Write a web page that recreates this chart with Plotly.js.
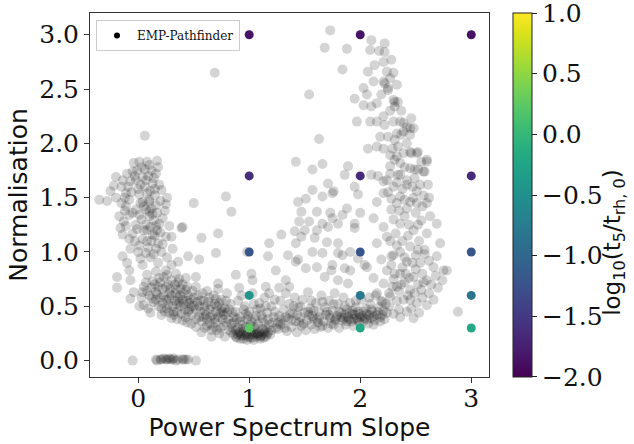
<!DOCTYPE html>
<html>
<head>
<meta charset="utf-8">
<script src="https://cdn.plot.ly/plotly-3.0.1.min.js"></script>
<style>html,body{margin:0;padding:0;background:#fff;}#chart{width:634px;height:444px;}</style>
</head>
<body>
<div id="chart"></div>
<script>
// ---- EMP-Pathfinder grey cloud (Power Spectrum Slope, Normalisation) ----
const leftCluster = [
[-0.04,1.82],[0.01,1.83],[0.08,1.83],[0.17,1.84],[0.16,1.72],[0.10,1.80],[-0.01,1.75],[-0.05,1.74],[0.04,1.69],[-0.02,1.66],
[-0.20,1.69],[-0.14,1.66],[-0.22,1.61],[-0.07,1.65],[0.07,1.66],[0.21,1.57],[0.13,1.63],[-0.11,1.54],[0.01,1.53],[0.11,1.56],
[-0.20,1.50],[-0.28,1.47],[-0.08,1.48],[0.04,1.46],[0.10,1.48],[0.16,1.43],[0.25,1.44],[-0.11,1.42],[-0.02,1.39],[0.07,1.39],
[0.17,1.36],[-0.17,1.33],[-0.08,1.34],[0.01,1.34],[0.10,1.33],[-0.11,1.24],[-0.02,1.25],[0.07,1.25],[0.16,1.24],[0.40,1.23],
[0.28,1.24],[0.11,1.23],[0.19,1.26],[-0.14,1.16],[-0.05,1.17],[0.13,1.16],[0.25,1.14],[0.01,1.06],[0.16,1.03],[-0.07,1.03],
[0.31,1.03],[-0.14,0.96],[0.07,0.99],[0.21,1.00],[0.36,0.91],[0.45,0.96],
[0.03,1.78],[0.12,1.75],[0.06,1.60],[0.00,1.58],[0.15,1.52],[0.05,1.42],[0.12,1.40],[0.03,1.30],[0.14,1.29],[0.08,1.20],
[0.12,1.10],[0.04,1.12],[0.18,1.08],[0.09,1.04],[-0.03,1.10],[0.20,1.18],[-0.06,1.55],[0.09,1.70],[-0.10,1.72],[0.22,1.31],
[-0.13,1.28],[-0.35,1.48],[-0.25,1.56],[0.26,1.50],
[-0.15,1.60],[-0.03,1.70],[0.06,1.76],[0.14,1.68],[0.19,1.62],[-0.09,1.60],[0.08,1.54],[-0.15,1.45],[0.02,1.45],[0.20,1.47],
[-0.05,1.36],[0.13,1.35],[0.24,1.38],[-0.16,1.22],[0.05,1.20],[0.15,1.15],[0.30,1.14],[-0.08,1.12],[0.00,1.00],[0.11,0.95],
[0.26,0.95],[0.18,0.90],[-0.10,0.90],[0.04,0.88],[0.30,0.88],[0.10,1.46],[0.18,1.78],[-0.12,1.50],
[0.08,1.10],[0.14,0.98],[0.22,1.07],[0.02,0.94],[0.17,1.20],[-0.01,1.21],[0.10,1.37],[0.02,1.62],[0.15,1.58],[-0.12,1.38]
];
const lowerBand = [
[-0.08,0.83],[-0.19,0.77],[-0.07,0.74],[-0.19,0.67],[-0.04,0.63],[-0.07,0.57],[0.01,0.50],
[0.08,0.79],[0.16,0.82],[0.25,0.83],[0.34,0.80],[0.43,0.76],[0.52,0.77],[0.04,0.63],[0.16,0.63],[0.25,0.68],[0.34,0.62],
[0.43,0.65],[0.52,0.68],[0.05,0.51],[0.16,0.56],[0.26,0.48],[0.37,0.54],[0.46,0.53],[0.52,0.47],[0.11,0.44],[0.21,0.42],
[0.30,0.39],[0.40,0.37],[0.48,0.34],[0.52,0.31],[0.05,0.68],[0.13,0.73],
[0.10,0.60],[0.20,0.58],[0.28,0.57],[0.33,0.70],[0.38,0.66],[0.45,0.60],[0.48,0.42],[0.42,0.47],[0.35,0.45],[0.27,0.52],
[0.18,0.50],[0.22,0.66],[0.30,0.74],[0.40,0.70],[0.12,0.67],[0.19,0.76],[0.28,0.62],[0.36,0.58],[0.44,0.55],[0.50,0.58],
[0.55,0.50],[0.55,0.40],[0.58,0.62],[0.24,0.45],[0.31,0.50],[0.39,0.43],[0.46,0.47],[0.53,0.54],[0.14,0.54],[0.23,0.60],
[0.41,0.62],[0.34,0.66],[0.49,0.64],[0.07,0.72],[0.26,0.79],[0.37,0.75],
[0.03,0.58],[0.09,0.48],[0.15,0.70],[0.21,0.48],[0.28,0.44],[0.33,0.55],[0.38,0.50],[0.43,0.40],[0.50,0.50],[0.56,0.45],
[0.61,0.42],[0.64,0.58],[0.69,0.38],[0.73,0.53],[0.77,0.42],[0.82,0.47],[0.86,0.40],[0.20,0.72],[0.29,0.66],[0.38,0.60],
[0.47,0.56],[0.56,0.55],[0.66,0.50],[0.76,0.45],[0.85,0.30],[0.62,0.32],[0.52,0.38],[0.44,0.35],[0.35,0.38],[0.25,0.56],
[0.17,0.61],[0.32,0.45],[0.41,0.52],[0.59,0.40],[0.71,0.28],[0.79,0.35],
[0.12,0.57],[0.22,0.53],[0.30,0.60],[0.35,0.52],[0.40,0.56],[0.45,0.45],[0.27,0.70],[0.18,0.68],[0.08,0.64],[0.32,0.42],
[0.48,0.50],[0.54,0.60],[0.60,0.50],[0.65,0.40],[0.70,0.57],[0.44,0.68],[0.36,0.72],[0.23,0.77],
[0.60,0.30],[0.62,0.38],[0.60,0.46],[0.63,0.54],[0.66,0.28],[0.67,0.42],[0.68,0.60],[0.70,0.35],[0.71,0.50],[0.73,0.25],
[0.74,0.44],[0.75,0.56],[0.77,0.32],[0.78,0.22],[0.78,0.48],[0.80,0.62],[0.81,0.38],[0.82,0.28],[0.83,0.52],[0.85,0.44],
[0.57,0.36],[0.59,0.55],[0.64,0.47],[0.65,0.34],[0.69,0.52],[0.72,0.40],[0.76,0.38],[0.79,0.55],[0.84,0.34],[0.62,0.64],
[0.72,0.66],[0.57,0.26],[0.66,0.22],[0.70,0.45],[0.75,0.48],[0.80,0.44],[0.68,0.31],[0.74,0.30],
[0.86,0.24],[0.89,0.21],[0.91,0.26],[0.93,0.23],[0.95,0.20],[0.97,0.25],[0.99,0.22],[1.01,0.27],[1.03,0.21],[1.05,0.24],
[1.07,0.22],[1.09,0.26],[1.11,0.23],[1.13,0.25],[1.15,0.22],[1.17,0.26],[0.88,0.28],[0.94,0.29],[1.00,0.30],[1.06,0.29],
[1.12,0.29],[0.92,0.20],[0.98,0.19],[1.04,0.19],[1.10,0.20],[0.96,0.23],[1.02,0.24],[1.08,0.24],[0.90,0.24],[1.14,0.27],
[1.19,0.24],[0.84,0.26],
[0.88,0.22],[0.92,0.25],[0.95,0.27],[0.98,0.24],[1.01,0.21],[1.04,0.26],[1.07,0.25],[1.10,0.22],[1.13,0.21],[1.16,0.24],
[0.90,0.30],[1.05,0.31],[1.15,0.30],[0.97,0.31],[1.20,0.28],
[0.86,0.35],[0.88,0.45],[0.90,0.55],[0.92,0.40],[0.94,0.33],[0.96,0.50],[0.98,0.38],[1.00,0.45],[1.02,0.36],[1.04,0.52],
[1.06,0.41],[1.08,0.34],[1.10,0.48],[1.12,0.39],[1.14,0.58],[1.16,0.44],[1.18,0.33],[1.20,0.50],[1.22,0.40],[1.24,0.30],
[0.93,0.60],[1.03,0.62],[1.18,0.62],[0.97,0.43],[1.07,0.47],[1.13,0.35],[1.23,0.56],[0.89,0.38],[1.01,0.33],[1.21,0.35],
[0.92,0.36],[0.99,0.41],[1.05,0.38],[1.11,0.42],[1.17,0.38],[1.23,0.45],[1.26,0.35],[0.95,0.47],[1.09,0.53],[1.15,0.50]
];
const midBand = [
[1.26,0.29],[1.27,0.41],[1.28,0.55],[1.30,0.34],[1.31,0.47],[1.33,0.62],[1.34,0.27],[1.35,0.39],[1.36,0.52],[1.38,0.31],
[1.39,0.44],[1.41,0.58],[1.42,0.36],[1.43,0.26],[1.44,0.49],[1.46,0.40],[1.47,0.32],[1.48,0.56],[1.50,0.44],[1.51,0.28],
[1.52,0.37],[1.53,0.63],[1.55,0.48],[1.56,0.33],[1.57,0.41],[1.59,0.29],[1.60,0.53],[1.61,0.38],[1.63,0.45],[1.64,0.31],
[1.65,0.60],[1.67,0.36],[1.68,0.49],[1.69,0.42],[1.71,0.30],[1.72,0.55],[1.73,0.39],[1.75,0.46],[1.76,0.33],[1.77,0.62],
[1.79,0.41],[1.80,0.52],[1.81,0.30],[1.83,0.44],[1.84,0.37],[1.85,0.58],[1.87,0.33],[1.88,0.47],[1.89,0.40],[1.91,0.53],
[1.92,0.36],[1.93,0.43],[1.94,0.32],[1.96,0.49],[1.97,0.39],[1.98,0.45],[1.99,0.35],[2.01,0.56],[2.02,0.41],[2.03,0.36],
[2.05,0.48],[2.06,0.43],[2.07,0.34],[2.09,0.52],[2.10,0.39],[2.11,0.45],[2.13,0.37],[2.14,0.60],[2.15,0.42],[2.17,0.49],
[2.18,0.40],[2.19,0.55],[2.21,0.46],[2.22,0.38],[2.23,0.52],
[1.78,0.38],[1.82,0.40],[1.86,0.42],[1.90,0.38],[1.95,0.42],[2.00,0.40],[2.04,0.39],[2.08,0.42],[1.93,0.46],[1.88,0.36],
[2.12,0.41],[1.98,0.37],[1.29,0.38],[1.37,0.43],[1.45,0.35],[1.54,0.42],[1.62,0.35],[1.70,0.45],[1.74,0.34],[1.58,0.46],
[1.40,0.50],[1.32,0.30],
[1.28,0.33],[1.33,0.40],[1.38,0.37],[1.43,0.42],[1.49,0.34],[1.53,0.45],[1.58,0.38],[1.63,0.40],[1.66,0.32],[1.72,0.42],
[1.77,0.37],[1.81,0.45],[1.85,0.39],[1.90,0.44],[1.94,0.38],[1.99,0.43],[2.03,0.45],[2.06,0.38],[2.10,0.47],[2.16,0.45],
[2.20,0.42],[1.46,0.50],[1.56,0.55],[1.66,0.54],[1.76,0.52],[1.86,0.50],[1.96,0.55],[2.08,0.58],[2.12,0.33]
];
const rightArm = [
[2.15,1.08],[2.24,1.14],[2.33,1.06],[2.45,1.05],[2.58,1.02],[2.69,0.96],[2.78,0.83],[2.30,0.97],[2.19,0.93],[2.42,0.91],
[2.54,0.90],[2.66,0.86],[2.24,0.83],[2.36,0.80],[2.48,0.77],[2.60,0.74],[2.70,0.67],[2.12,0.76],[2.21,0.71],[2.33,0.68],
[2.45,0.65],[2.55,0.65],[2.66,0.56],[2.15,0.62],[2.27,0.59],[2.39,0.56],[2.51,0.53],[2.60,0.51],[2.48,0.39],[2.36,0.40],
[2.24,0.44],[2.18,0.36],[2.72,1.08],
[2.28,0.88],[2.38,0.86],[2.50,0.84],[2.40,0.72],[2.30,0.75],[2.52,0.70],[2.43,0.60],[2.33,0.55],[2.26,0.50],[2.56,0.58],
[2.46,0.48],[2.35,0.47],[2.62,0.62],[2.40,0.95],[2.50,0.97],[2.62,0.92],[2.56,0.80],[2.68,0.78],[2.35,0.64],[2.29,0.68],
[2.20,0.54],[2.41,0.80],[2.64,0.70],[2.74,0.74],[2.45,0.56],[2.53,0.44],[2.30,0.43],[2.58,0.98],[2.36,1.00],[2.47,0.90],
[2.26,0.62],[2.31,0.80],[2.37,0.70],[2.44,0.76],[2.49,0.62],[2.57,0.72],[2.42,0.45],[2.28,0.96],[2.52,1.02],[2.38,1.10],
[2.21,1.54],[2.36,1.51],[2.51,1.56],[2.60,1.45],[2.15,1.46],[2.28,1.39],[2.42,1.40],[2.55,1.29],[2.69,1.26],[2.12,1.31],
[2.21,1.23],[2.36,1.26],[2.48,1.20],[2.60,1.17],
[2.44,1.25],[2.35,1.38],[2.51,1.45],[2.40,1.48],[2.62,1.50],[2.28,1.49],[2.47,1.60],[2.33,1.64],[2.40,1.78],[2.55,1.83],
[2.29,1.95],[2.42,2.00],[2.37,2.30],[2.27,2.30],[2.19,2.45],[2.27,2.60],[2.17,2.85],
[2.21,1.65],[2.27,1.72],[2.34,1.71],[2.42,1.66],[2.49,1.68],[2.61,1.62],[2.10,1.71],[2.16,1.70],[2.60,1.83],[2.36,1.82],
[2.45,1.77],[2.52,1.76],[2.58,1.74],[2.27,1.89],[2.33,1.88],[2.39,1.91],[2.45,1.92],[2.51,1.91],[2.15,1.97],[2.07,1.95],
[2.21,1.95],[2.31,2.03],[2.25,2.06],[2.18,2.06],[2.33,2.09],[2.39,2.11],[2.45,2.14],[2.46,2.23],[2.39,2.19],[2.30,2.20],
[2.22,2.17],[2.15,2.20],[2.09,2.20],[2.21,2.25],[2.10,2.34],[2.03,2.35],[2.15,2.37],[2.30,2.40],[2.31,2.34],[2.34,2.38],
[2.06,2.45],[2.03,2.51],[2.25,2.51],[2.33,2.54],[2.12,2.57],[2.21,2.57],[2.07,2.66],[2.24,2.66],[2.30,2.65],[2.13,2.72],
[2.21,2.75],[2.28,2.77],[2.22,2.84],[2.10,2.95],[2.09,2.86],[2.22,2.92],
[2.22,2.55],[2.31,2.38],[2.25,2.49],[2.36,2.20],[2.42,2.15],[2.48,2.14],[2.37,2.08],[2.45,2.08],[2.34,1.97],[2.46,1.91],
[2.52,1.92],[2.60,1.85],[2.49,1.76],[2.57,1.74],[2.31,1.85],[2.27,1.79],[2.36,1.71],[2.24,1.66],[2.42,1.62],[2.54,1.62],
[2.30,1.30],[2.40,1.33],[2.50,1.36],[2.45,1.46],[2.33,1.45],[2.25,1.55],[2.38,1.58],[2.48,1.50],[2.56,1.42],[2.52,1.25],
[2.43,1.15],[2.32,1.17],[2.27,1.10],[2.53,1.10],[2.63,1.33],[2.57,1.52],[2.30,1.60]
];
const scattered = [
[0.06,2.07],[0.69,2.65],[0.39,1.22],[0.57,1.13],[0.72,1.17],[0.70,0.99],[0.55,0.93],[0.79,1.51],[0.84,1.37],[0.50,1.45],
[0.88,0.79],[1.02,0.80],[1.03,0.74],[0.98,1.00],[0.91,0.67],[0.72,0.71],
[1.18,1.08],[1.17,0.96],[1.29,1.16],[1.35,0.97],[1.24,0.83],[1.33,0.74],[1.15,0.68],[1.27,0.67],[1.36,0.68],
[1.44,0.93],[1.42,1.08],[1.41,1.19],[1.42,0.91],
[1.57,1.57],[1.71,1.63],[1.44,1.46],[1.51,1.49],[1.66,1.51],[1.75,1.54],[1.98,1.53],[1.47,1.37],[1.61,1.37],[1.73,1.36],
[2.00,1.36],[1.45,1.28],[1.54,1.28],[1.66,1.26],[1.75,1.31],[1.50,1.20],[1.61,1.20],[1.71,1.23],[1.95,1.22],[1.59,1.13],
[1.47,1.14],[1.70,1.09],[1.80,1.08],[1.57,1.00],[1.66,0.99],[1.80,0.99],[1.84,0.97],[2.04,0.88],[1.51,0.85],[1.61,0.86],
[1.68,0.77],[1.80,0.74],[1.89,0.71],[1.74,0.83],[1.86,0.85],
[1.88,1.40],[1.84,1.34],[1.80,1.26],[1.95,1.26],[1.91,1.00],[1.98,0.94],[1.75,0.88],[1.91,0.83],[2.06,0.86],
[1.54,2.45],[1.63,2.04],[1.57,1.76],[1.66,1.81],[1.89,1.79],[1.86,1.71],[1.76,1.56],[1.42,1.83],[1.95,1.60],[1.97,2.20],
[1.95,2.41],[1.84,2.68],[1.88,2.87],[1.68,2.88],[1.73,3.04],[2.75,0.83],[2.88,0.45]
];
const bottomRow = [
[-0.05,0.00],[0.17,0.00],[0.21,0.01],[0.25,0.01],[0.28,0.02],[0.31,0.01],[0.34,0.00],[0.40,0.01],[0.43,0.01],[0.52,0.00],
[0.16,0.01],[0.20,0.01],[0.23,0.02],[0.26,0.01],[0.29,0.01],[0.32,0.02],[0.36,0.01],[0.41,0.01],[0.45,0.01]
];

// ---- model grid points coloured by log10(t5/trh,0) ----
const gridSlope = [1, 1, 1, 1, 1, 2, 2, 2, 2, 2, 3, 3, 3, 3, 3];
const gridNorm  = [3.0, 1.7, 1.0, 0.6, 0.3, 3.0, 1.7, 1.0, 0.6, 0.3, 3.0, 1.7, 1.0, 0.6, 0.3];
const gridLogT  = [-1.85, -1.6, -1.2, -0.45, 0.25, -1.85, -1.65, -1.2, -0.8, -0.2, -1.85, -1.65, -1.2, -0.85, -0.2];

const xTicks = [0, 1, 2, 3];
const yTicks = [0, 0.5, 1.0, 1.5, 2.0, 2.5, 3.0];
const cbTicks = [-2, -1.5, -1, -0.5, 0, 0.5, 1];
const cbTickText = ['\u22122.0', '\u22121.5', '\u22121.0', '\u22120.5', '0.0', '0.5', '1.0'];

const grey = [].concat(leftCluster, lowerBand, midBand, rightArm, scattered, bottomRow);

const serif = 'DejaVu Serif, serif';
const sans = 'DejaVu Sans, sans-serif';

const traces = [
  {
    type: 'scatter', mode: 'markers',
    x: grey.map(p => p[0]), y: grey.map(p => p[1]),
    marker: {size: 10, color: 'rgba(0,0,0,0.17)', line: {width: 0}},
    showlegend: false, hoverinfo: 'skip'
  },
  {
    type: 'scatter', mode: 'markers', x: [null], y: [null],
    name: 'EMP-Pathfinder',
    marker: {size: 6, color: '#000'}
  },
  {
    type: 'scatter', mode: 'markers',
    x: gridSlope, y: gridNorm, showlegend: false,
    marker: {
      size: 9, color: gridLogT, colorscale: 'Viridis', cmin: -2, cmax: 1,
      line: {width: 0}, showscale: true,
      colorbar: {
        x: 1.0602, xanchor: 'left', xpad: 0, y: 0.5, yanchor: 'middle', ypad: 0,
        len: 1, lenmode: 'fraction', thickness: 19, thicknessmode: 'pixels',
        outlinewidth: 1, outlinecolor: '#222',
        tickmode: 'array',
        tickvals: cbTicks.map(v => v === 1 ? 0.999 : (v === -2 ? -1.999 : v)),
        ticktext: cbTickText,
        ticklabeloverflow: 'allow',
        ticks: 'outside', ticklen: 5, tickcolor: '#222', tickwidth: 1,
        tickfont: {family: serif, size: 25, color: '#111'}
      }
    }
  }
];

const layout = {
  width: 634, height: 444,
  margin: {l: 90, r: 145, t: 13, b: 67},
  paper_bgcolor: '#fff', plot_bgcolor: '#fff',
  showlegend: true,
  legend: {
    x: 0.015, y: 0.981, xanchor: 'left', yanchor: 'top',
    bordercolor: '#cccccc', borderwidth: 1, bgcolor: 'rgba(255,255,255,0.8)',
    font: {family: serif, size: 12, color: '#111'}
  },
  xaxis: {
    range: [-0.434, 3.16], tickvals: xTicks, ticktext: xTicks.map(String),
    showgrid: false, zeroline: false,
    showline: true, mirror: true, linecolor: '#333', linewidth: 1,
    ticks: 'outside', ticklen: 5, tickcolor: '#333',
    ticklabelstandoff: -6,
    tickfont: {family: serif, size: 25, color: '#111'},
    title: {text: 'Power Spectrum Slope', font: {family: sans, size: 25, color: '#111'}, standoff: 2},
    automargin: false
  },
  yaxis: {
    range: [-0.151, 3.20], tickvals: yTicks, tickformat: '.1f',
    showgrid: false, zeroline: false,
    showline: true, mirror: true, linecolor: '#333', linewidth: 1,
    ticks: 'outside', ticklen: 5, tickcolor: '#333',
    tickfont: {family: serif, size: 25, color: '#111'},
    title: {text: 'Normalisation', font: {family: sans, size: 25, color: '#111'}, standoff: 4},
    automargin: false
  },
  annotations: [{
    text: 'log<sub>10</sub>(t<sub>5</sub>/t<sub>rh, 0</sub>)',
    xref: 'paper', yref: 'paper', x: 1.313, y: 0.371,
    xanchor: 'center', yanchor: 'middle', textangle: -90, showarrow: false,
    font: {family: sans, size: 23, color: '#111'}
  }]
};

Plotly.newPlot('chart', traces, layout, {staticPlot: true, displayModeBar: false});
</script>
</body>
</html>
